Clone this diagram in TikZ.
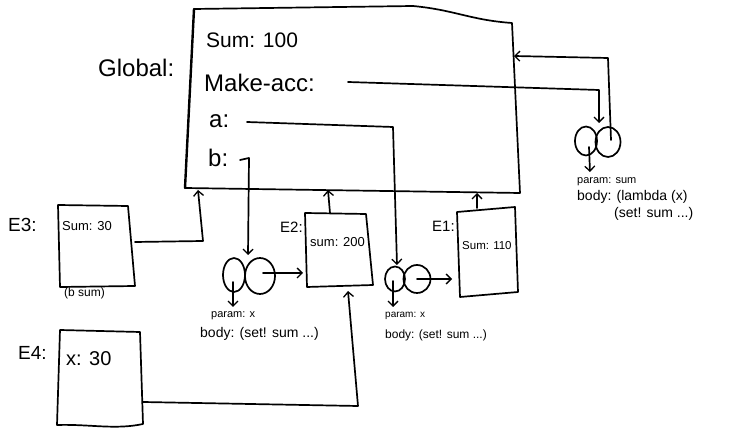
\documentclass[tikz,border=0pt]{standalone}
\usepackage{fontspec}
\setmainfont{Liberation Sans}
\usetikzlibrary{arrows.meta,shapes.geometric}
\newcommand{\fs}[1]{\fontsize{#1}{#1}\selectfont}
\begin{document}
\begin{tikzpicture}[x=1pt,y=-1pt,
  ink/.style={line width=1.7pt, line cap=round, line join=round},
  link/.style={ink, -{Straight Barb[length=5pt,width=10pt,line width=1.3pt]}},
  lbl/.style={inner sep=0pt, anchor=base west},
  bubble/.style={draw, ink, ellipse, inner sep=0pt},
]
\useasboundingbox[fill=white] (0,0) rectangle (737,435);

% ---------- global frame ----------
\coordinate (gTL) at (194,9);
\coordinate (gTM) at (413,6);
\coordinate (gTR) at (512,23);
\coordinate (gBR) at (520,193);
\coordinate (gBL) at (185,188);
\draw[ink] (gTL) -- (gTM) .. controls (455,10) and (470,20) .. (gTR) -- (gBR) -- (gBL);
\draw[line width=2.4pt, line cap=round] (gBL) -- (gTL);
\node[lbl, font=\fs{24}] (glabel) at (98,77) {Global:};
\node[lbl, font=\fs{21}] (gsum) at (206,48) {Sum: 100};
\node[lbl, font=\fs{24}] (gmake) at (204,92) {Make-acc:};
\node[lbl, font=\fs{24}] (ga) at (209,128) {a:};
\node[lbl, font=\fs{24}] (gb) at (208,167) {b:};

% ---------- E3 ----------
\coordinate (e3TL) at (58,205);
\coordinate (e3TR) at (128,206);
\coordinate (e3BR) at (135,286);
\coordinate (e3BL) at (60,287);
\draw[ink] (e3TL) -- (e3TR) -- (e3BR) -- (e3BL) -- cycle;
\node[lbl, font=\fs{19}] (e3label) at (8,232) {E3:};
\node[lbl, font=\fs{13}] (e3sum) at (62,231) {Sum: 30};
\node[lbl, font=\fs{12}] (e3call) at (64,297) {(b sum)};

% ---------- E2 ----------
\coordinate (e2TL) at (305,213);
\coordinate (e2TR) at (366,214);
\coordinate (e2BR) at (373,285);
\coordinate (e2BL) at (307,287);
\draw[ink] (e2TL) -- (e2TR) -- (e2BR) -- (e2BL) -- cycle;
\node[lbl, font=\fs{15}] (e2label) at (280,233) {E2:};
\node[lbl, font=\fs{13}] (e2sum) at (310,247) {sum: 200};

% ---------- E1 ----------
\coordinate (e1TL) at (457,212);
\coordinate (e1TR) at (515,207);
\coordinate (e1BR) at (518,292);
\coordinate (e1BL) at (460,297);
\draw[ink] (e1TL) -- (e1TR) -- (e1BR) -- (e1BL) -- cycle;
\node[lbl, font=\fs{15}] (e1label) at (432,232) {E1:};
\node[lbl, font=\fs{11.5}] (e1sum) at (462,250) {Sum: 110};

% ---------- E4 ----------
\coordinate (e4TL) at (60,330);
\coordinate (e4TR) at (140,332);
\coordinate (e4BR) at (143,424);
\coordinate (e4BL) at (57,425);
\draw[ink] (e4TL) -- (e4TR) -- (e4BR) .. controls (115,430) and (90,424) .. (e4BL) -- cycle;
\node[lbl, font=\fs{19}] (e4label) at (18,360) {E4:};
\node[lbl, font=\fs{20}] (e4x) at (66,366) {x: 30};

% ---------- closure bound to b ----------
\node[bubble, minimum width=22pt, minimum height=34pt] (bl) at (234,275) {};
\node[bubble, minimum width=30pt, minimum height=36pt] (br) at (260,276) {};
\node[lbl, font=\fs{11}] (bparam) at (211,318) {param: x};
\node[lbl, font=\fs{14}] (bbody) at (200,338) {body: (set! sum ...)};

% ---------- closure bound to a ----------
\node[bubble, minimum width=20pt, minimum height=25pt] (al) at (395,279) {};
\node[bubble, minimum width=27pt, minimum height=28pt] (ar) at (417,279) {};
\node[lbl, font=\fs{10}] (aparam) at (385,318) {param: x};
\node[lbl, font=\fs{12}] (abody) at (385,339) {body: (set! sum ...)};

% ---------- closure bound to Make-acc ----------
\node[bubble, minimum width=22pt, minimum height=29pt] (ml) at (586,141) {};
\node[bubble, minimum width=25pt, minimum height=30pt] (mr) at (608,142) {};
\node[lbl, font=\fs{11}] (mparam) at (577,184) {param: sum};
\node[lbl, font=\fs{14}] (mbody) at (577,201) {body: (lambda (x)};
\node[lbl, font=\fs{14}] (mbody2) at (614,218) {(set! sum ...)};

% ---------- connectors ----------
% environment links to the enclosing frame
\coordinate (e3out) at (135,242);
\coordinate (g3) at (198,190);
\draw[link] (e3out) -- (203,241) -- (g3);
\coordinate (e2top) at (330,213);
\coordinate (g2) at (328,190);
\draw[link] (e2top) -- (g2);
\coordinate (e1top) at (477,208);
\coordinate (g1) at (477,193);
\draw[link] (e1top) -- (g1);
\coordinate (e4out) at (143,402);
\coordinate (e2bot) at (348,291);
\draw[link] (e4out) -- (358,406) -- (e2bot);

% variable bindings to closures
\coordinate (bstart) at (240,160);
\coordinate (bin) at (248,255);
\draw[link] (bstart) -- (249,158) -- (bin);
\coordinate (astart) at (247,122);
\coordinate (ain) at (397,265);
\draw[link] (astart) -- (393,127) -- (ain);
\coordinate (mstart) at (348,82);
\coordinate (min) at (599,123);
\draw[link] (mstart) -- (599,90) -- (min);

% closure environment pointers
\coordinate (e2in) at (303,273);
\draw[link] (263,273) -- (e2in);
\coordinate (e1in) at (452,279);
\draw[link] (ar.center) -- (e1in);
\coordinate (gright) at (514,56);
\draw[link] (611,140) -- (608,58) -- (gright);

% closure code pointers
\draw[link] (233,282) -- (233,307);
\draw[link] (393,281) -- (393,307);
\draw[link] (589,147) -- (590,172);
\end{tikzpicture}
\end{document}
